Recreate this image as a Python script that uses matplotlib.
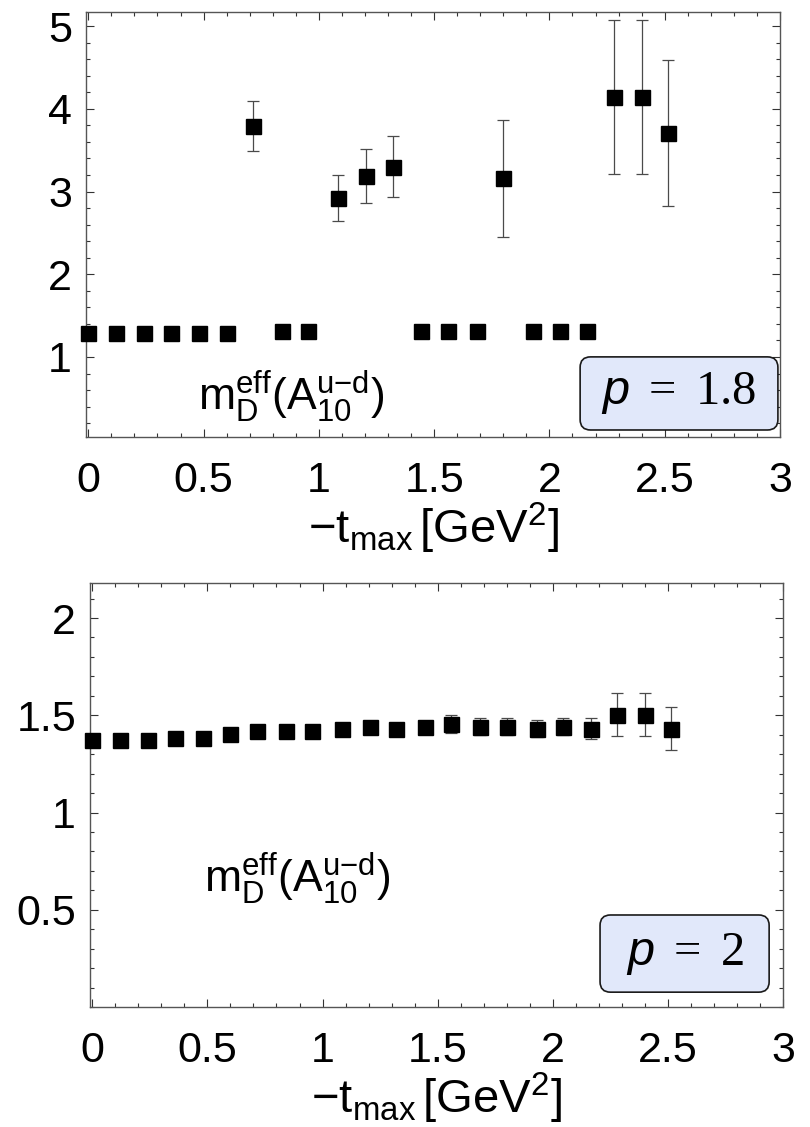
import matplotlib
matplotlib.use("Agg")
import matplotlib.pyplot as plt
from matplotlib.patches import FancyBboxPatch
from matplotlib.ticker import MultipleLocator, FixedLocator

# ---------------- data ----------------
t_max = [0.0, 0.12, 0.24, 0.36, 0.48, 0.60, 0.715, 0.84, 0.955, 1.083, 1.205,
         1.32, 1.445, 1.56, 1.685, 1.80, 1.93, 2.045, 2.165, 2.28, 2.40, 2.515]

# p = 1.8
m18 = [1.29, 1.29, 1.29, 1.29, 1.29, 1.29, 3.79, 1.32, 1.32, 2.92, 3.19,
       3.30, 1.32, 1.32, 1.32, 3.16, 1.32, 1.32, 1.32, 4.14, 4.14, 3.71]
e18 = [0.02, 0.02, 0.02, 0.02, 0.02, 0.02, 0.30, 0.02, 0.02, 0.28, 0.33,
       0.37, 0.02, 0.02, 0.02, 0.71, 0.02, 0.02, 0.02, 0.93, 0.93, 0.88]

# p = 2
m2 = [1.371, 1.371, 1.371, 1.385, 1.385, 1.402, 1.418, 1.418, 1.418, 1.428, 1.442,
      1.428, 1.442, 1.455, 1.442, 1.442, 1.431, 1.442, 1.431, 1.503, 1.503, 1.43]
e2 = [0.005, 0.005, 0.005, 0.005, 0.005, 0.005, 0.005, 0.006, 0.008, 0.02, 0.012,
      0.02, 0.03, 0.047, 0.045, 0.045, 0.045, 0.045, 0.055, 0.11, 0.11, 0.11]

x_ticks = [0, 0.5, 1, 1.5, 2, 2.5, 3]
x_ticklabels = ["0", "0.5", "1", "1.5", "2", "2.5", "3"]
y_ticks_top = [1, 2, 3, 4, 5]
y_ticklabels_top = ["1", "2", "3", "4", "5"]
y_ticks_bot = [0.5, 1, 1.5, 2]
y_ticklabels_bot = ["0.5", "1", "1.5", "2"]

xlabel = r"$\mathsf{-t_{max}\,[GeV^{2}]}$"
quantity = r"$\mathsf{m_{D}^{eff}(A_{10}^{u{-}d})}$"
p_labels = [r"$p\;=\;1.8$", r"$p\;=\;2$"]

# ---------------- style ----------------
plt.rcParams["font.family"] = ["Liberation Sans", "DejaVu Sans"]
plt.rcParams["mathtext.fontset"] = "custom"
plt.rcParams["mathtext.rm"] = "Liberation Serif"
plt.rcParams["mathtext.it"] = "Liberation Sans:italic"
plt.rcParams["mathtext.sf"] = "Liberation Sans"
plt.rcParams["mathtext.bf"] = "Liberation Sans:bold"

W, H = 810, 1127
fig = plt.figure(figsize=(W / 100, H / 100), dpi=100)

# axes frames in pixel coordinates (left, top, right, bottom)
frames = [(86, 12, 780, 437), (90, 583, 783, 1007)]
axes = []
for (l, t, r, b) in frames:
    ax = fig.add_axes([l / W, (H - b) / H, (r - l) / W, (b - t) / H])
    axes.append(ax)

frame_col = "#555555"
tick_col = "#333333"
FS = 31

def style(ax, yt, ytl, yminor):
    ax.set_xlim(-0.01, 3.0)
    ax.xaxis.set_major_locator(FixedLocator(x_ticks))
    ax.set_xticklabels(x_ticklabels)
    ax.xaxis.set_minor_locator(MultipleLocator(0.1))
    ax.set_yticks(yt)
    ax.set_yticklabels(ytl)
    ax.yaxis.set_minor_locator(MultipleLocator(yminor))
    ax.tick_params(which="both", direction="in", top=True, right=True,
                   color=tick_col, width=0.8)
    ax.tick_params(which="major", length=5.5)
    ax.tick_params(which="minor", length=3)
    ax.tick_params(axis="x", which="major", labelsize=FS, pad=17)
    ax.tick_params(axis="y", which="major", labelsize=FS, pad=10)
    for s in ax.spines.values():
        s.set_color(frame_col)
        s.set_linewidth(1.0)
    ax.set_xlabel(xlabel, fontsize=34, labelpad=0)

def draw(ax, y, e):
    ax.errorbar(t_max, y, yerr=e, fmt="s", color="black", ms=10.8,
                ecolor="#4a4a4a", elinewidth=0.9, capsize=4.3, capthick=0.9,
                clip_on=False, zorder=3)

def pbox(ax, x0, y0, w, h, text, aspect):
    box = FancyBboxPatch((x0, y0), w, h, transform=ax.transAxes,
                         boxstyle="round,pad=0,rounding_size=0.015",
                         mutation_aspect=aspect, fc="#E1E8FA", ec="#1a1a1a",
                         lw=1.2, zorder=4, clip_on=False)
    ax.add_patch(box)
    ax.text(x0 + w / 2, y0 + h / 2, text, transform=ax.transAxes,
            ha="center", va="center", fontsize=35, zorder=5)

# top panel p = 1.8
ax = axes[0]
draw(ax, m18, e18)
ax.set_ylim(0.033, 5.17)
style(ax, y_ticks_top, y_ticklabels_top, 0.2)
ax.text(0.161, 0.062, quantity, transform=ax.transAxes, fontsize=32,
        ha="left", va="baseline")
pbox(ax, 0.712, 0.0165, 0.285, 0.172, p_labels[0], 694 / 425)

# bottom panel p = 2
ax = axes[1]
draw(ax, m2, e2)
ax.set_ylim(0.0, 2.18)
style(ax, y_ticks_bot, y_ticklabels_bot, 0.1)
ax.text(0.165, 0.27, quantity, transform=ax.transAxes, fontsize=32,
        ha="left", va="baseline")
pbox(ax, 0.736, 0.035, 0.244, 0.182, p_labels[1], 693 / 424)

fig.savefig("out.png", dpi=100)
